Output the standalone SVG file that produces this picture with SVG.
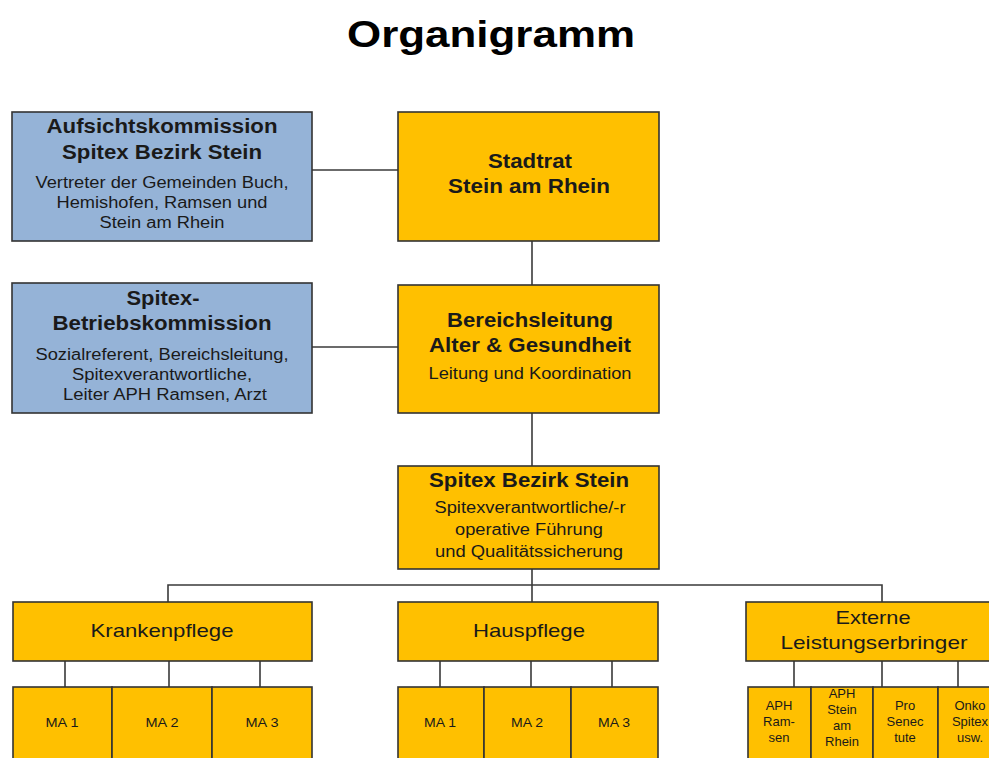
<svg xmlns="http://www.w3.org/2000/svg" width="989" height="758" viewBox="0 0 989 758">
<style>
.bg{fill:#ffffff}
.blue{fill:#95B3D7;stroke:#333333;stroke-width:1.6}
.org{fill:#FFC000;stroke:#333333;stroke-width:1.6}
.ln{fill:none;stroke:#3a3a3a;stroke-width:1.6}
text{font-family:"Liberation Sans",Arial,sans-serif;fill:#1a1a1a;text-anchor:middle}
.t{font-size:36px;font-weight:bold;fill:#000}
.h{font-size:20px;font-weight:bold}
.s{font-size:16px}
.m{font-size:19px}
.x{font-size:13px}
</style>
<rect class="bg" x="0" y="0" width="989" height="758"/>
<text class="t" x="491" y="47" textLength="288" lengthAdjust="spacingAndGlyphs">Organigramm</text>
<g id="connectors">
<path class="ln" d="M312 170H398"/>
<path class="ln" d="M312 347H398"/>
<path class="ln" d="M532 241V285"/>
<path class="ln" d="M532 413V466"/>
<path class="ln" d="M532 569V602"/>
<path class="ln" d="M168 602V585H882V602"/>
<path class="ln" d="M65 661V687M169 661V687M260 661V687"/>
<path class="ln" d="M440 661V687M531 661V687M612 661V687"/>
<path class="ln" d="M794 661V687M882 661V687M958 661V687"/>
</g>
<g id="aufsicht">
<rect class="blue" x="12" y="112" width="300" height="129"/>
<text class="h" x="162" y="133" textLength="231" lengthAdjust="spacingAndGlyphs">Aufsichtskommission</text>
<text class="h" x="162" y="159" textLength="200" lengthAdjust="spacingAndGlyphs">Spitex Bezirk Stein</text>
<text class="s" x="162" y="188" textLength="253" lengthAdjust="spacingAndGlyphs">Vertreter der Gemeinden Buch,</text>
<text class="s" x="162" y="208" textLength="211" lengthAdjust="spacingAndGlyphs">Hemishofen, Ramsen und</text>
<text class="s" x="162" y="228" textLength="125" lengthAdjust="spacingAndGlyphs">Stein am Rhein</text>
</g>
<g id="betrieb">
<rect class="blue" x="12" y="283" width="300" height="130"/>
<text class="h" x="163" y="305" textLength="73" lengthAdjust="spacingAndGlyphs">Spitex-</text>
<text class="h" x="162" y="330" textLength="219" lengthAdjust="spacingAndGlyphs">Betriebskommission</text>
<text class="s" x="162" y="360" textLength="253" lengthAdjust="spacingAndGlyphs">Sozialreferent, Bereichsleitung,</text>
<text class="s" x="162" y="380" textLength="180" lengthAdjust="spacingAndGlyphs">Spitexverantwortliche,</text>
<text class="s" x="165" y="400" textLength="204" lengthAdjust="spacingAndGlyphs">Leiter APH Ramsen, Arzt</text>
</g>
<g id="stadtrat">
<rect class="org" x="398" y="112" width="261" height="129"/>
<text class="h" x="530" y="168" textLength="84" lengthAdjust="spacingAndGlyphs">Stadtrat</text>
<text class="h" x="529" y="193" textLength="162" lengthAdjust="spacingAndGlyphs">Stein am Rhein</text>
</g>
<g id="bereich">
<rect class="org" x="398" y="285" width="261" height="128"/>
<text class="h" x="530" y="327" textLength="166" lengthAdjust="spacingAndGlyphs">Bereichsleitung</text>
<text class="h" x="530" y="352" textLength="202" lengthAdjust="spacingAndGlyphs">Alter &amp; Gesundheit</text>
<text class="s" x="530" y="379" textLength="203" lengthAdjust="spacingAndGlyphs">Leitung und Koordination</text>
</g>
<g id="spitex">
<rect class="org" x="398" y="466" width="261" height="103"/>
<text class="h" x="529" y="487" textLength="200" lengthAdjust="spacingAndGlyphs">Spitex Bezirk Stein</text>
<text class="s" x="530" y="513" textLength="191" lengthAdjust="spacingAndGlyphs">Spitexverantwortliche/-r</text>
<text class="s" x="529" y="535" textLength="148" lengthAdjust="spacingAndGlyphs">operative Führung</text>
<text class="s" x="529" y="557" textLength="188" lengthAdjust="spacingAndGlyphs">und Qualitätssicherung</text>
</g>
<g id="kranken">
<rect class="org" x="13" y="602" width="299" height="59"/>
<text class="m" x="162" y="637" textLength="143" lengthAdjust="spacingAndGlyphs">Krankenpflege</text>
</g>
<g id="haus">
<rect class="org" x="398" y="602" width="260" height="59"/>
<text class="m" x="529" y="637" textLength="112" lengthAdjust="spacingAndGlyphs">Hauspflege</text>
</g>
<g id="extern">
<rect class="org" x="746" y="602" width="256" height="59"/>
<text class="m" x="873" y="624" textLength="75" lengthAdjust="spacingAndGlyphs">Externe</text>
<text class="m" x="874" y="649" textLength="187" lengthAdjust="spacingAndGlyphs">Leistungserbringer</text>
</g>
<g id="k-ma1"><rect class="org" x="13" y="687" width="99" height="80"/><text class="x" x="62" y="727" textLength="33" lengthAdjust="spacingAndGlyphs">MA 1</text></g>
<g id="k-ma2"><rect class="org" x="112" y="687" width="100" height="80"/><text class="x" x="162" y="727" textLength="33" lengthAdjust="spacingAndGlyphs">MA 2</text></g>
<g id="k-ma3"><rect class="org" x="212" y="687" width="100" height="80"/><text class="x" x="262" y="727" textLength="33" lengthAdjust="spacingAndGlyphs">MA 3</text></g>
<g id="h-ma1"><rect class="org" x="398" y="687" width="86" height="80"/><text class="x" x="440" y="727" textLength="32" lengthAdjust="spacingAndGlyphs">MA 1</text></g>
<g id="h-ma2"><rect class="org" x="484" y="687" width="87" height="80"/><text class="x" x="527" y="727" textLength="32" lengthAdjust="spacingAndGlyphs">MA 2</text></g>
<g id="h-ma3"><rect class="org" x="571" y="687" width="87" height="80"/><text class="x" x="614" y="727" textLength="32" lengthAdjust="spacingAndGlyphs">MA 3</text></g>
<g id="e-ramsen"><rect class="org" x="748" y="687" width="63" height="80"/>
<text class="x" x="779" y="710">APH</text><text class="x" x="779" y="726">Ram-</text><text class="x" x="779" y="742">sen</text></g>
<g id="e-stein"><rect class="org" x="811" y="687" width="62" height="80"/>
<text class="x" x="842" y="698">APH</text><text class="x" x="842" y="714">Stein</text><text class="x" x="842" y="730">am</text><text class="x" x="842" y="746">Rhein</text></g>
<g id="e-pro"><rect class="org" x="873" y="687" width="65" height="80"/>
<text class="x" x="905" y="710">Pro</text><text class="x" x="905" y="726">Senec</text><text class="x" x="905" y="742">tute</text></g>
<g id="e-onko"><rect class="org" x="938" y="687" width="64" height="80"/>
<text class="x" x="970" y="710">Onko</text><text class="x" x="970" y="726">Spitex</text><text class="x" x="970" y="742">usw.</text></g>
</svg>
